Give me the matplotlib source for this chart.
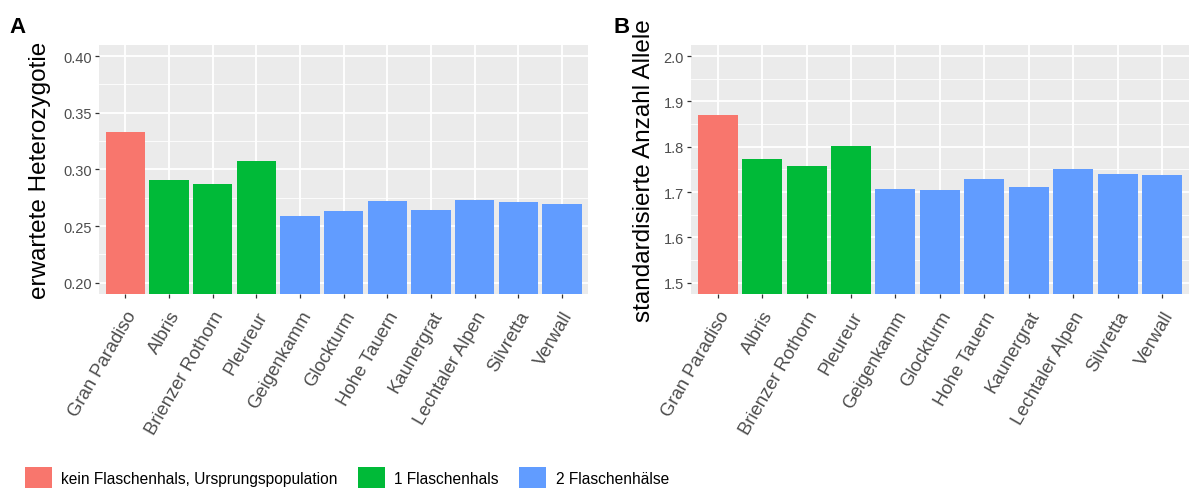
import matplotlib
matplotlib.use("Agg")
import matplotlib.pyplot as plt
from matplotlib.patches import Patch
from matplotlib.ticker import MultipleLocator

plt.rcParams['font.family'] = ['Liberation Sans', 'DejaVu Sans']

# Populationen und Gruppen
populationen = ['Gran Paradiso', 'Albris', 'Brienzer Rothorn', 'Pleureur', 'Geigenkamm',
                'Glockturm', 'Hohe Tauern', 'Kaunergrat', 'Lechtaler Alpen', 'Silvretta', 'Verwall']
gruppe = [0, 1, 1, 1, 2, 2, 2, 2, 2, 2, 2]
gruppen_namen = ['kein Flaschenhals, Ursprungspopulation', '1 Flaschenhals', '2 Flaschenhälse']

# Werte
heterozygotie = [0.333, 0.291, 0.287, 0.307, 0.259, 0.263, 0.272, 0.264, 0.273, 0.271, 0.269]
allele = [1.871, 1.773, 1.758, 1.802, 1.707, 1.705, 1.728, 1.711, 1.751, 1.740, 1.737]

farben = ['#F8766D', '#00BA38', '#619CFF']
grau_text = '#4D4D4D'

fig = plt.figure(figsize=(11.89, 4.89), dpi=100)
ax_a = fig.add_axes([0.0833, 0.3967, 0.4113, 0.5098])
ax_b = fig.add_axes([0.5812, 0.3967, 0.4186, 0.5098])


def panel(ax, werte, ylim, step, ylabel, fmt, pad):
    x = list(range(len(populationen)))
    ax.set_facecolor('#EBEBEB')
    ax.bar(x, werte, width=0.9, bottom=0, color=[farben[g] for g in gruppe], zorder=3)
    ax.set_xlim(-0.6, len(populationen) - 0.4)
    ax.set_ylim(*ylim)
    ax.yaxis.set_major_locator(MultipleLocator(step))
    ax.yaxis.set_minor_locator(MultipleLocator(step / 2))
    ax.yaxis.set_major_formatter(matplotlib.ticker.FormatStrFormatter(fmt))
    ax.set_xticks(x)
    ax.set_xticklabels(populationen, rotation=60, ha='right', va='top',
                       rotation_mode='anchor', fontsize=13.3, color=grau_text)
    ax.grid(True, which='major', color='white', linewidth=1.3, zorder=0)
    ax.grid(True, which='minor', axis='y', color='white', linewidth=0.6, zorder=0)
    ax.set_axisbelow(True)
    for s in ax.spines.values():
        s.set_visible(False)
    ax.tick_params(axis='both', which='major', length=3, width=0.9, color='#333333')
    ax.tick_params(axis='y', which='minor', length=0)
    ax.tick_params(axis='y', labelsize=10.5, labelcolor=grau_text, pad=2)
    ax.tick_params(axis='x', pad=7)
    ax.set_ylabel(ylabel, fontsize=17.5, color='black', labelpad=pad)


panel(ax_a, heterozygotie, (0.19, 0.41), 0.05, 'erwartete Heterozygotie', '%.2f', 9)
panel(ax_b, allele, (1.475, 2.025), 0.1, 'standardisierte Anzahl Allele', '%.1f', 6)

fig.text(0.008, 0.965, 'A', fontsize=16, fontweight='bold', va='top')
fig.text(0.516, 0.965, 'B', fontsize=16, fontweight='bold', va='top')

handles = [Patch(facecolor=farben[i], edgecolor='none', label=gruppen_namen[i]) for i in range(3)]
fig.legend(handles=handles, loc='lower left', bbox_to_anchor=(0.0155, -0.014), ncol=3,
           frameon=False, fontsize=11.2, handlelength=1.75, handleheight=1.75,
           handletextpad=0.6, columnspacing=1.3, borderaxespad=0.0)

fig.savefig('out.png', dpi=100)
